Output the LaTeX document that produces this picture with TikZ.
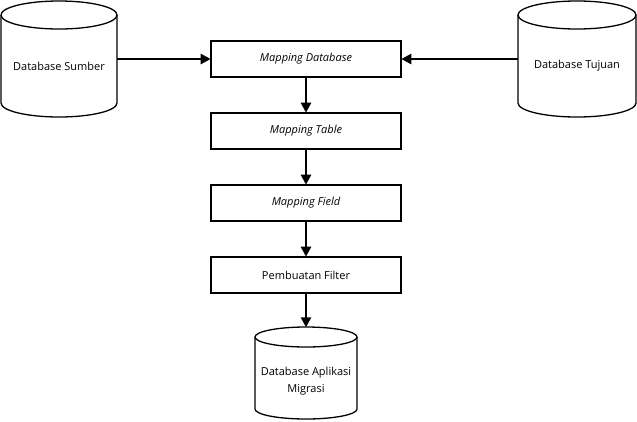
\documentclass[tikz,border=0pt]{standalone}
\usepackage{fontspec}
\setmainfont{Open Sans}
\usetikzlibrary{arrows.meta}
\tikzset{
  box/.style={draw, line width=1.6pt, minimum width=190pt, minimum height=36pt, inner sep=0pt, font=\fontsize{11}{13}\selectfont\itshape},
  plainbox/.style={box, font=\fontsize{11}{13}\selectfont},
  dbtext/.style={inner sep=0pt, align=center, font=\fontsize{11}{17}\selectfont},
  cyl/.style={line width=1.3pt},
  arr/.style={line width=2.4pt, -{Triangle[length=10pt,width=10pt]}, shorten >=-0.5pt}
}
\begin{document}
\begin{tikzpicture}[x=1pt,y=-1pt]
\useasboundingbox (0,0) rectangle (637,421);
% cylinders
\draw[cyl] (1,15) -- (1,103) arc[start angle=180,end angle=0,x radius=58,y radius=14] -- (117,15);
\draw[cyl] (59,15) ellipse[x radius=58,y radius=14];
\draw[cyl] (518,15) -- (518,103) arc[start angle=180,end angle=0,x radius=59,y radius=14] -- (636,15);
\draw[cyl] (577,15) ellipse[x radius=59,y radius=14];
\draw[cyl] (255,337) -- (255,409) arc[start angle=180,end angle=0,x radius=51,y radius=10] -- (357,337);
\draw[cyl] (306,337) ellipse[x radius=51,y radius=10];
% nodes
\node[dbtext, minimum width=116pt] (src) at (59,66) {Database Sumber};
\node[dbtext, minimum width=118pt] (dst) at (577,66) {Database Tujuan};
\node[dbtext, minimum width=102pt, minimum height=108pt] (app) at (306,381) {Database Aplikasi\\Migrasi};
\node[box] (mapdb) at (306,59) {Mapping Database};
\node[box] (maptb) at (306,131) {Mapping Table};
\node[box] (mapfd) at (306,203) {Mapping Field};
\node[plainbox] (filter) at (306,275) {Pembuatan Filter};
% connectors
\draw[arr] (src.east |- mapdb.west) -- (mapdb.west);
\draw[arr] (dst.west |- mapdb.east) -- (mapdb.east);
\draw[arr] (mapdb) -- (maptb);
\draw[arr] (maptb) -- (mapfd);
\draw[arr] (mapfd) -- (filter);
\draw[arr] (filter) -- (app);
\end{tikzpicture}
\end{document}
